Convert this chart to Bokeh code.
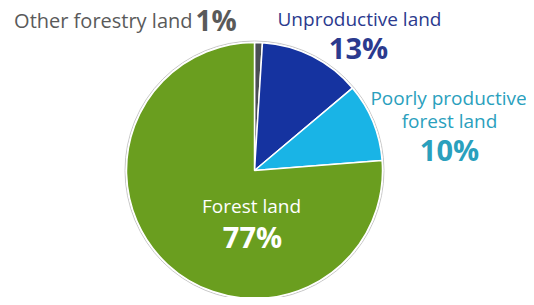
import numpy as np
from bokeh.plotting import figure
from bokeh.models import Range1d, ColumnDataSource
from bokeh.core.properties import value
from bokeh.embed import file_html
from bokeh.resources import INLINE

# ---- data ----
categories = ["Other forestry land", "Unproductive land", "Poorly productive forest land", "Forest land"]
shares = [1, 13, 10, 77]
pct_labels = ["1%", "13%", "10%", "77%"]
colors = ["#4a4f55", "#1533a0", "#19b4e6", "#6a9e1f"]

W, H = 526, 297
p = figure(width=W, height=H, output_backend="svg", toolbar_location=None,
           x_range=Range1d(0, W), y_range=Range1d(305 - H, 305),
           min_border=0, outline_line_color=None)
p.axis.visible = False
p.grid.visible = False
p.background_fill_color = "white"
p.border_fill_color = "white"

vals = np.array(shares, dtype=float)
ang = vals / vals.sum() * 2 * np.pi
ends = np.pi / 2 - np.cumsum(ang)
starts = ends + ang
cx, cy, r = 254, 305 - 170, 128

src = ColumnDataSource(dict(start=starts, end=ends, color=colors, cat=categories))
# outer faint rim
p.circle(x=[cx], y=[cy], radius=r + 1.5, fill_color="white", line_color="#c8c8c8", line_width=1)
p.wedge(x=cx, y=cy, radius=r, start_angle="start", end_angle="end", direction="clock",
        fill_color="color", line_color="white", line_width=1.5, source=src)

font = value("Open Sans")

def t(x, y, s, color, size, style="normal", align="center"):
    p.text(x=[x], y=[305 - y], text=[s], text_color=color, text_font=font,
           text_font_size=f"{size}px", text_font_style=style, text_align=align,
           text_baseline="alphabetic")

gray, navy, teal = "#5a5a5a", "#2b3a8e", "#2aa0bd"
t(192, 20, categories[0], gray, 20, align="right")
t(195, 19, pct_labels[0], gray, 28, "bold", align="left")
t(359, 18, categories[1], navy, 19)
t(358, 47, pct_labels[1], navy, 29, "bold")
t(448, 97, "Poorly productive", teal, 19)
t(449, 120, "forest land", teal, 19)
t(449, 149, pct_labels[2], teal, 29, "bold")
t(251, 205, categories[3], "white", 19)
t(252, 236, pct_labels[3], "white", 29, "bold")

open("out.html", "w").write(file_html(p, INLINE))
